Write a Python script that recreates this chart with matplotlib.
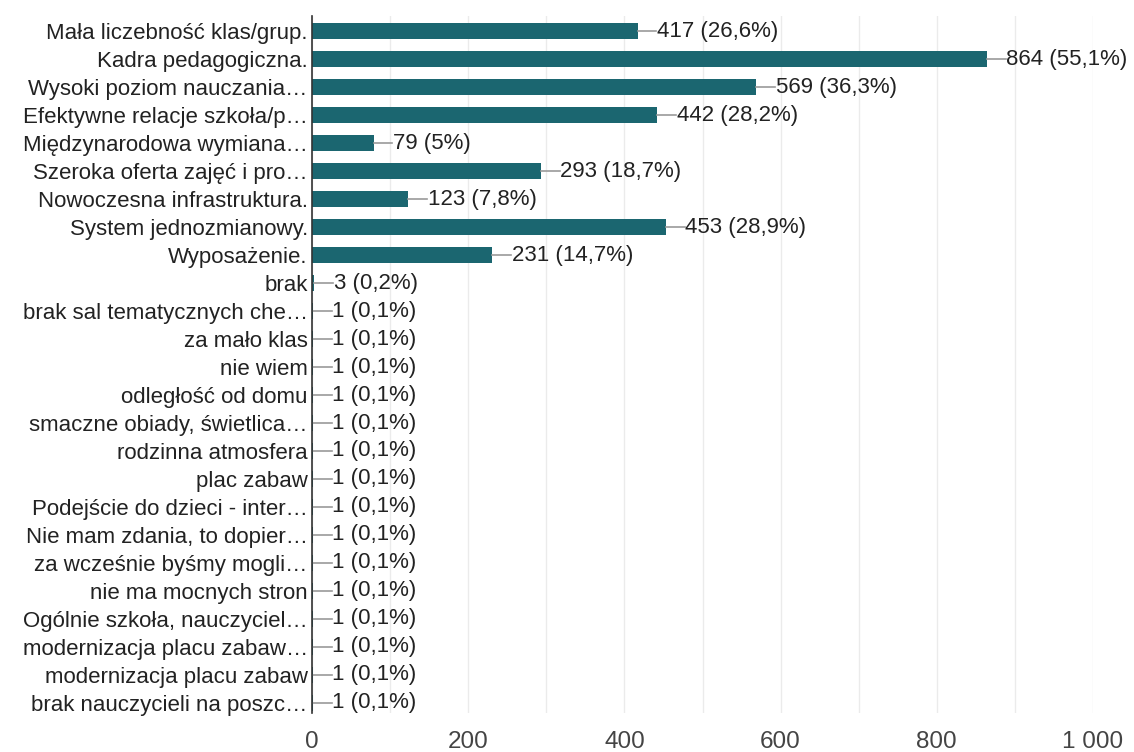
import matplotlib
matplotlib.use("Agg")
import matplotlib.pyplot as plt
from matplotlib.ticker import MultipleLocator, FuncFormatter

plt.rcParams['font.family'] = ['Liberation Sans', 'DejaVu Sans']

# categories and answer counts
labels = [
    "Mała liczebność klas/grup.",
    "Kadra pedagogiczna.",
    "Wysoki poziom nauczania…",
    "Efektywne relacje szkoła/p…",
    "Międzynarodowa wymiana…",
    "Szeroka oferta zajęć i pro…",
    "Nowoczesna infrastruktura.",
    "System jednozmianowy.",
    "Wyposażenie.",
    "brak",
    "brak sal tematycznych che…",
    "za mało klas",
    "nie wiem",
    "odległość od domu",
    "smaczne obiady, świetlica…",
    "rodzinna atmosfera",
    "plac zabaw",
    "Podejście do dzieci - inter…",
    "Nie mam zdania, to dopier…",
    "za wcześnie byśmy mogli…",
    "nie ma mocnych stron",
    "Ogólnie szkoła, nauczyciel…",
    "modernizacja placu zabaw…",
    "modernizacja placu zabaw",
    "brak nauczycieli na poszc…",
]
counts = [417, 864, 569, 442, 79, 293, 123, 453, 231, 3,
          1, 1, 1, 1, 1, 1, 1, 1, 1, 1, 1, 1, 1, 1, 1]
percents = ["26,6", "55,1", "36,3", "28,2", "5", "18,7", "7,8", "28,9", "14,7", "0,2",
            "0,1", "0,1", "0,1", "0,1", "0,1", "0,1", "0,1", "0,1", "0,1", "0,1",
            "0,1", "0,1", "0,1", "0,1", "0,1"]

bar_color = "#1b6670"
text_color = "#222222"
fs = 16

fig = plt.figure(figsize=(11.34, 7.52), dpi=100)
ax = fig.add_axes([312 / 1134, 1 - 713 / 752, (1093 - 312) / 1134, (713 - 16) / 752])

y = list(range(len(labels)))
ax.barh(y, counts, height=0.58, color=bar_color, zorder=3)

# leader line + value label
lead = 24  # data units
for yi, c, p in zip(y, counts, percents):
    ax.plot([c, c + lead], [yi, yi], color="#9a9a9a", lw=1.2, zorder=3)
    ax.text(c + lead + 1, yi, f"{c} ({p}%)", va="center", ha="left",
            fontsize=fs, color=text_color, zorder=4)

ax.set_xlim(0, 1000)
ax.set_ylim(len(labels) - 1 + 0.36, -0.54)
ax.set_yticks(y)
ax.set_yticklabels(labels, fontsize=fs, color=text_color)
ax.xaxis.set_major_locator(MultipleLocator(200))
ax.xaxis.set_minor_locator(MultipleLocator(100))
ax.xaxis.set_major_formatter(FuncFormatter(lambda v, _: f"{int(v):,}".replace(",", " ")))
ax.tick_params(axis="x", which="both", length=0, labelsize=17.5, labelcolor="#444444", pad=13)
ax.tick_params(axis="y", length=0, pad=3)
ax.grid(axis="x", which="both", color="#ebebeb", lw=1, zorder=0)

for s in ["top", "right", "bottom"]:
    ax.spines[s].set_visible(False)
ax.spines["left"].set_color("#333333")
ax.spines["left"].set_linewidth(1.2)
ax.spines["left"].set_zorder(5)

fig.savefig("out.png", dpi=100)
